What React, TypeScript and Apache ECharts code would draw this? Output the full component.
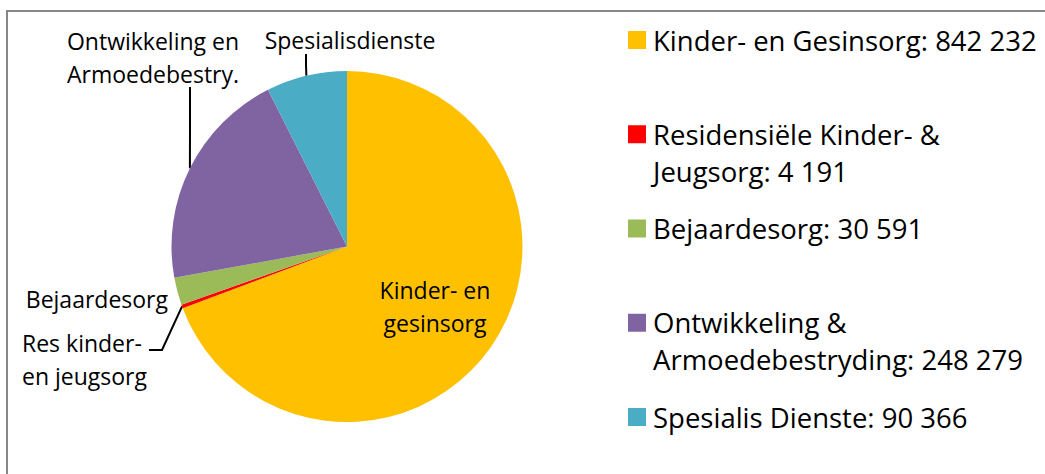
import React, { useEffect, useRef } from "react";
import * as echarts from "echarts";

const categories = [
  "Kinder- en Gesinsorg",
  "Residensiële Kinder- &\nJeugsorg",
  "Bejaardesorg",
  "Ontwikkeling &\nArmoedebestryding",
  "Spesialis Dienste",
];
const values = [842232, 4191, 30591, 248279, 90366];
const sliceLabels = [
  "Kinder- en\ngesinsorg",
  "Res kinder-\nen jeugsorg",
  "Bejaardesorg",
  "Ontwikkeling en\nArmoedebestry.",
  "Spesialisdienste",
];
const colors = ["#FFC000", "#FF0000", "#9BBB59", "#8064A2", "#4BACC6"];

const FONT = "'Open Sans'";
const FS_LABEL = 23;
const FS_LEGEND = 27.5;
const CX = 347;
const CY = 246.5;
const R = 175.5;

// label anchors (layout only)
const labelPos = [
  { x: 435, y: 306, align: "center", line: null },
  { x: 22, y: 359, align: "left", line: [[162, 350], [149, 350]] },
  { x: 168, y: 299, align: "right", line: null },
  { x: 153, y: 57, align: "center", line: [[190, 128], [190, 87]] },
  { x: 350, y: 40, align: "center", line: [[306, 65], [306, 54]] },
];

const fmt = (v: number) => String(v).replace(/\B(?=(\d{3})+(?!\d))/g, " ");

export default function App() {
  const ref = useRef<HTMLDivElement>(null);
  useEffect(() => {
    if (!ref.current) return;
    const chart = echarts.init(ref.current, undefined, { renderer: "svg" });
    const legendGraphics: any[] = [];
    categories.forEach((name, i) => {
      const yc = 40 + i * 94.25;
      legendGraphics.push({
        type: "rect",
        shape: { x: 628, y: yc - 9, width: 18, height: 18 },
        style: { fill: colors[i] },
        silent: true,
      });
      legendGraphics.push({
        type: "text",
        x: 653,
        y: yc - 18.5,
        style: {
          text: name + ": " + fmt(values[i]),
          fontSize: FS_LEGEND,
          fontFamily: FONT,
          fill: "#000",
          lineHeight: 37,
          verticalAlign: "top",
          align: "left",
        },
        silent: true,
      });
    });
    chart.setOption({
      animation: false,
      graphic: [
        {
          type: "rect",
          shape: { x: 7, y: 11, width: 1100, height: 500 },
          style: { fill: "none", stroke: "#878787", lineWidth: 2 },
          silent: true,
        },
        ...legendGraphics,
      ],
      series: [
        {
          type: "pie",
          center: [CX, CY],
          radius: R,
          startAngle: 90,
          clockwise: true,
          silent: true,
          itemStyle: { borderWidth: 0 },
          data: values.map((v, i) => ({
            name: categories[i],
            value: v,
            itemStyle: { color: colors[i] },
            labelLine: { show: !!labelPos[i].line },
            label: { position: i === 0 ? "inside" : "outside" },
          })),
          label: {
            show: true,
            formatter: (p: any) => sliceLabels[p.dataIndex],
            fontSize: FS_LABEL,
            fontFamily: FONT,
            color: "#000",
            lineHeight: 33,
            overflow: "none",
            alignTo: "none",
          },
          labelLine: {
            show: true,
            smooth: false,
            lineStyle: { color: "#000", width: 2 },
          },
          labelLayout: (params: any) => {
            const lp = labelPos[params.dataIndex];
            const out: any = {
              x: lp.x,
              y: lp.y,
              align: lp.align,
              verticalAlign: "middle",
            };
            if (lp.line) {
              const start =
                params.labelLinePoints && params.labelLinePoints[0]
                  ? params.labelLinePoints[0]
                  : [CX, CY];
              out.labelLinePoints = [start, lp.line[0], lp.line[1]];
            }
            return out;
          },
        },
      ],
    });
    return () => chart.dispose();
  }, []);
  return (
    <div
      ref={ref}
      style={{ position: "absolute", left: 0, top: 0, width: 1045, height: 474, background: "#fff" }}
    />
  );
}
